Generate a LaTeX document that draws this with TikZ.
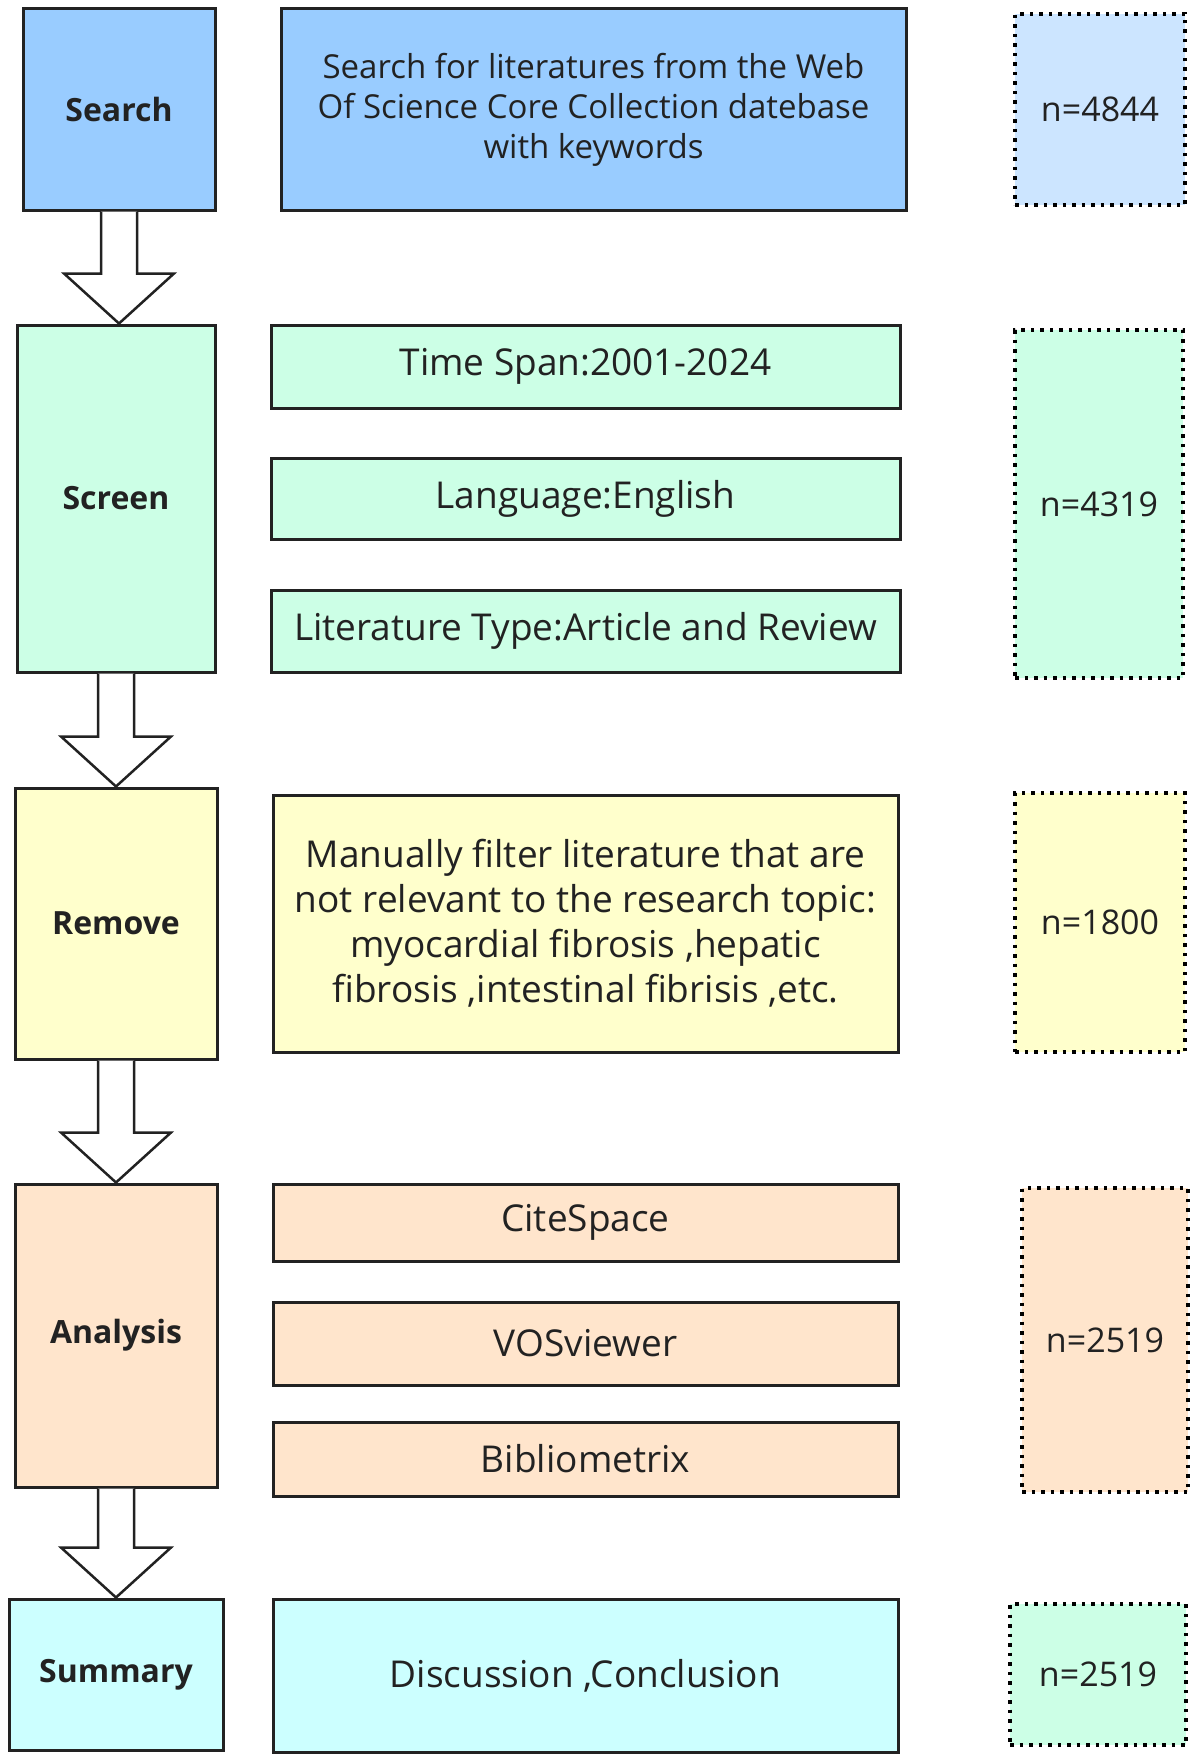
\documentclass[tikz,border=0pt]{standalone}
\usepackage{fontspec}
\setmainfont{Open Sans}
\usetikzlibrary{calc}

\definecolor{searchblue}{HTML}{99CCFF}
\definecolor{nblue}{HTML}{CCE5FF}
\definecolor{screengreen}{HTML}{CCFFE6}
\definecolor{removeyellow}{HTML}{FFFFCC}
\definecolor{analysispeach}{HTML}{FFE5CC}
\definecolor{summarycyan}{HTML}{CCFFFF}
\definecolor{linegray}{HTML}{222222}

\tikzset{
  stage/.style={draw=linegray, line width=3pt, align=center, inner sep=0pt,
    font=\fontsize{32}{40}\selectfont\bfseries, text=linegray},
  itembox/.style={draw=linegray, line width=3pt, align=center, inner sep=0pt,
    font=\fontsize{37}{45}\selectfont, text=linegray},
  countbox/.style={draw=black, line width=3.5pt, dash pattern=on 3.5pt off 6pt,
    align=center, inner sep=0pt, font=\fontsize{34}{40}\selectfont, text=linegray},
  flowline/.style={draw=linegray, line width=2.5pt, fill=white, line join=miter}
}

% hollow block arrow from the bottom of one stage to the top of the next
\newcommand{\flowarrow}[2]{%
  \draw[flowline] let \p1=(#1.south), \p2=(#2.north) in
    (\x1-18pt,\y1) -- (\x1-18pt,\y2+50pt) -- (\x1-55pt,\y2+50pt) -- (\x1,\y2)
    -- (\x1+55pt,\y2+50pt) -- (\x1+18pt,\y2+50pt) -- (\x1+18pt,\y1);}

\begin{document}
\begin{tikzpicture}[x=1pt,y=-1pt]
\useasboundingbox (0,0) rectangle (1200,1763);

% search
\node[stage, fill=searchblue, minimum width=192pt, minimum height=201pt] (search) at (119,109.5) {Search};
\node[itembox, fill=searchblue, minimum width=625pt, minimum height=201pt,
  font=\fontsize{33}{40}\selectfont] (searchtxt) at (593.5,109.5)
  {Search for literatures from the Web\\Of Science Core Collection datebase\\with keywords};
\node[countbox, fill=nblue, minimum width=170pt, minimum height=191pt] (nsearch) at (1100,109.5) {n=4844};

% screen
\node[stage, fill=screengreen, minimum width=198pt, minimum height=347pt] (screen) at (116,498.5) {Screen};
\node[itembox, fill=screengreen, minimum width=629pt, minimum height=83pt] (timespan) at (585.5,366.5) {Time Span:2001-2024};
\node[itembox, fill=screengreen, minimum width=629pt, minimum height=81pt] (language) at (585.5,498.5) {Language:English};
\node[itembox, fill=screengreen, minimum width=629pt, minimum height=82pt] (littype) at (585.5,631) {Literature Type:Article and Review};
\node[countbox, fill=screengreen, minimum width=168pt, minimum height=348pt] (nscreen) at (1099,504) {n=4319};

% remove
\node[stage, fill=removeyellow, minimum width=202pt, minimum height=271pt] (remove) at (116,923.5) {Remove};
\node[itembox, fill=removeyellow, minimum width=625pt, minimum height=257pt] (removetxt) at (585.5,923.5)
  {Manually filter literature that are\\not relevant to the research topic:\\myocardial fibrosis ,hepatic\\fibrosis ,intestinal fibrisis ,etc.};
\node[countbox, fill=removeyellow, minimum width=170pt, minimum height=259pt] (nremove) at (1100,922.5) {n=1800};

% analysis
\node[stage, fill=analysispeach, minimum width=202pt, minimum height=303pt] (analysis) at (116,1335.5) {Analysis};
\node[itembox, fill=analysispeach, minimum width=625pt, minimum height=77pt] (citespace) at (585.5,1222.5) {CiteSpace};
\node[itembox, fill=analysispeach, minimum width=625pt, minimum height=83pt] (vosviewer) at (585.5,1343.5) {VOSviewer};
\node[itembox, fill=analysispeach, minimum width=625pt, minimum height=74pt] (biblio) at (585.5,1459) {Bibliometrix};
\node[countbox, fill=analysispeach, minimum width=166pt, minimum height=304pt] (nanalysis) at (1105,1340) {n=2519};

% summary
\node[stage, fill=summarycyan, minimum width=214pt, minimum height=151pt] (summary) at (116,1674.5) {Summary};
\node[itembox, fill=summarycyan, minimum width=625pt, minimum height=153pt] (disc) at (585.5,1675.5) {Discussion ,Conclusion};
\node[countbox, fill=screengreen, minimum width=176pt, minimum height=141pt] (nsummary) at (1098,1674.5) {n=2519};

\flowarrow{search}{screen}
\flowarrow{screen}{remove}
\flowarrow{remove}{analysis}
\flowarrow{analysis}{summary}
\end{tikzpicture}
\end{document}
